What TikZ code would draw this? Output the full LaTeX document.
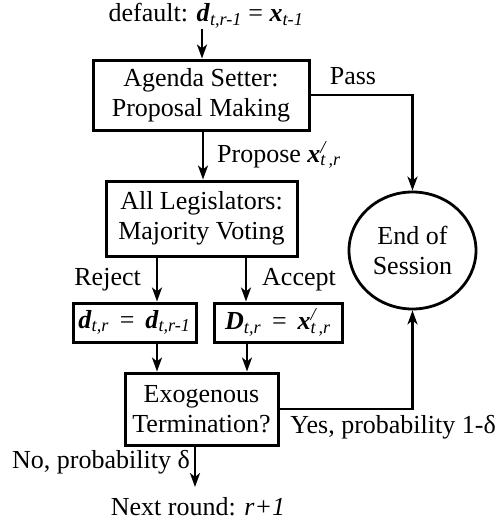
\documentclass[tikz,border=0pt]{standalone}
\usepackage{fontspec}
\setmainfont{Liberation Serif}
\usetikzlibrary{arrows.meta,shapes.geometric}
\newcommand\bvar[1]{\textbf{\textit{#1}}}
\newcommand\isub[1]{\textsubscript{\textit{#1}}}
\newcommand\xprime{\bvar{x}\makebox[0pt][l]{\textsuperscript{\textit{/}}}\isub{t\,,r}}
\begin{document}
\begin{tikzpicture}[x=1pt,y=-1pt,
  every node/.style={font=\fontsize{26}{30}\selectfont, inner sep=0pt},
  box/.style={draw, line width=3pt, align=center},
  arr/.style={line width=2.6pt, -{Stealth[length=14pt,width=10pt,inset=4pt]}}]
\useasboundingbox (0,0) rectangle (498,523);
\node (def) at (206,16) {default: \bvar{d}\isub{t,r-1} = \bvar{x}\isub{t-1}};
\node[box, minimum width=216pt, minimum height=70pt] (agenda) at (201,95) {Agenda Setter:\\Proposal Making};
\node[box, minimum width=191pt, minimum height=75pt] (legis) at (201.5,218.5) {All Legislators:\\Majority Voting};
\node[box, minimum width=123pt, minimum height=39pt] (dbox) at (134.5,322.5) {\bvar{d}\isub{t,r} \,=\, \bvar{d}\isub{t,r-1}};
\node[box, minimum width=128pt, minimum height=39pt] (Dbox) at (278,322.5) {\bvar{D}\isub{t,r} \,=\, \xprime};
\node[box, minimum width=153pt, minimum height=72pt] (exo) at (201.5,409) {Exogenous\\Termination?};
\node[draw, ellipse, line width=2.8pt, minimum width=127pt, minimum height=117pt, align=center] (end) at (412.5,250.5) {End of\\Session};
\node[anchor=west] (prop) at (217,155) {Propose \xprime};
\node (pass) at (353,76) {Pass};
\node[anchor=east] (rej) at (141,280) {Reject};
\node[anchor=west] (acc) at (262,280) {Accept};
\node[anchor=east] (yes) at (496,427) {Yes, probability 1-δ};
\node[anchor=east] (no) at (190,462) {No, probability δ};
\node (next) at (198,507) {Next round: \textit{r+1}};
\coordinate (noend) at (195,487);
\draw[arr] (def.south -| 202,0) -- (agenda.north -| 202,0);
\draw[arr] (agenda.south -| 203,0) -- (legis.north -| 203,0);
\draw[arr] (legis.south -| 157,0) -- (dbox.north -| 157,0);
\draw[arr] (legis.south -| 246,0) -- (Dbox.north -| 246,0);
\draw[arr] (dbox.south -| 157,0) -- (exo.north -| 157,0);
\draw[arr] (Dbox.south -| 247,0) -- (exo.north -| 247,0);
\draw[arr] (agenda.east) -| (end.north);
\draw[arr] (exo.east) -| (end.south);
\draw[arr] (exo.south -| noend) -- (noend);
\end{tikzpicture}
\end{document}
